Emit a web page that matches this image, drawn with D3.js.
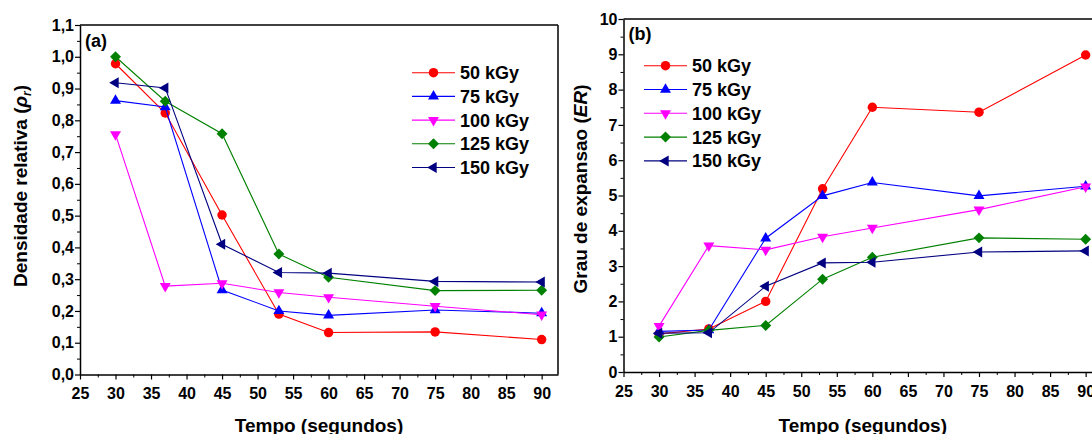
<!DOCTYPE html>
<html>
<head>
<meta charset="utf-8">
<script src="https://cdn.jsdelivr.net/npm/d3@7"></script>
<style>
  body { margin: 0; background: #fff; }
  svg { display: block; font-family: Arial, "Liberation Sans", sans-serif; }
</style>
</head>
<body>
<svg id="chart" width="1092" height="434"></svg>
<script>
// tempo (segundos)
var tempo = [30, 37, 45, 53, 60, 75, 90];
var doses = ["50 kGy", "75 kGy", "100 kGy", "125 kGy", "150 kGy"];
var colors = ["#ff0000", "#0000ff", "#ff00ff", "#008000", "#000080"];
var shapes = ["circle", "triangleUp", "triangleDown", "diamond", "triangleLeft"];

// (a) densidade relativa
var densidade50 = [0.978, 0.823, 0.502, 0.190, 0.132, 0.134, 0.110];
var densidade75 = [0.862, 0.842, 0.266, 0.200, 0.186, 0.203, 0.193];
var densidade100 = [0.756, 0.278, 0.287, 0.258, 0.243, 0.215, 0.188];
var densidade125 = [1.000, 0.860, 0.758, 0.379, 0.306, 0.264, 0.265];
var densidade150 = [0.918, 0.902, 0.410, 0.321, 0.319, 0.293, 0.291];

// (b) grau de expansao
var expansao50 = [1.08, 1.22, 2.00, 5.19, 7.50, 7.36, 8.98];
var expansao75 = [1.15, 1.19, 3.79, 4.99, 5.37, 4.99, 5.26];
var expansao100 = [1.30, 3.58, 3.46, 3.83, 4.08, 4.60, 5.25];
var expansao125 = [0.99, 1.18, 1.32, 2.63, 3.25, 3.80, 3.76];
var expansao150 = [1.10, 1.11, 2.43, 3.09, 3.11, 3.40, 3.43];

var xTicks = [25, 30, 35, 40, 45, 50, 55, 60, 65, 70, 75, 80, 85, 90];
var yTicksA = [0, 0.1, 0.2, 0.3, 0.4, 0.5, 0.6, 0.7, 0.8, 0.9, 1.0, 1.1];
var yTicksB = [0, 1, 2, 3, 4, 5, 6, 7, 8, 9, 10];

var svg = d3.select("#chart");

var symbolPath = function(shape) {
    if (shape == "circle") return d3.symbol(d3.symbolCircle, 70)();
    if (shape == "diamond") return d3.symbol(d3.symbolSquare, 60)();
    return d3.symbol(d3.symbolTriangle, 52)();
};
var symbolRotate = function(shape) {
    if (shape == "triangleDown") return 180;
    if (shape == "triangleLeft") return -90;
    if (shape == "diamond") return 45;
    return 0;
};

var drawPanel = function(p) {
    var g = svg.append("g");

    var x = d3.scaleLinear().domain([25, 92.3]).range([p.left, p.right]);
    var y = d3.scaleLinear().domain(p.yDomain).range([p.bottom, p.top]);

    // frame
    g.append("line")
        .attr("x1", p.left).attr("x2", p.right)
        .attr("y1", p.top).attr("y2", p.top)
        .attr("stroke", "#000").attr("stroke-width", 1.5);
    g.append("line")
        .attr("x1", p.right).attr("x2", p.right)
        .attr("y1", p.top).attr("y2", p.bottom)
        .attr("stroke", "#000").attr("stroke-width", 1.5);

    // minor ticks
    var xMinor = d3.range(27.5, 92, 5);
    var yMinor = d3.range(p.yDomain[0] + p.yStep / 2, p.yDomain[1], p.yStep);
    g.append("g")
        .attr("transform", "translate(0," + p.bottom + ")")
        .call(d3.axisBottom(x).tickValues(xMinor).tickSize(3).tickFormat(""))
        .call(function(a) { a.select(".domain").remove(); });
    g.append("g")
        .attr("transform", "translate(" + p.left + ",0)")
        .call(d3.axisLeft(y).tickValues(yMinor).tickSize(3).tickFormat(""))
        .call(function(a) { a.select(".domain").remove(); });

    var xAxis = g.append("g")
        .attr("transform", "translate(0," + p.bottom + ")")
        .call(d3.axisBottom(x).tickValues(xTicks).tickSizeInner(5).tickSizeOuter(0).tickPadding(8.5));
    var yAxis = g.append("g")
        .attr("transform", "translate(" + p.left + ",0)")
        .call(d3.axisLeft(y).tickValues(p.yTicks).tickSizeInner(5).tickSizeOuter(0).tickPadding(1)
            .tickFormat(p.yFormat));

    [xAxis, yAxis].forEach(function(a) {
        a.select(".domain").attr("stroke-width", 1.5);
        a.selectAll(".tick line").attr("stroke-width", 1.2);
        a.selectAll("text")
            .attr("font-size", "16px")
            .attr("font-weight", "bold")
            .attr("fill", "#000")
            .attr("font-family", "Arial, 'Liberation Sans', sans-serif");
    });
    g.selectAll(".tick line").attr("stroke", "#000");

    // series
    p.series.forEach(function(vals, i) {
        var pts = tempo.map(function(t, j) { return {x: t, y: vals[j]}; });
        var line = d3.line()
            .x(function(d) { return x(d.x); })
            .y(function(d) { return y(d.y); });
        g.append("path")
            .datum(pts)
            .attr("fill", "none")
            .attr("stroke", colors[i])
            .attr("stroke-width", 1.1)
            .attr("d", line);
        g.selectAll(".pt" + i)
            .data(pts)
            .enter().append("path")
            .attr("class", "pt" + i)
            .attr("fill", colors[i])
            .attr("d", symbolPath(shapes[i]))
            .attr("transform", function(d) {
                return "translate(" + x(d.x) + "," + y(d.y) + ") rotate(" + symbolRotate(shapes[i]) + ")";
            });
    });

    // legend
    var leg = g.append("g");
    doses.forEach(function(name, i) {
        var ly = p.legY + i * p.legStep;
        leg.append("line")
            .attr("x1", p.legX).attr("x2", p.legX + 43)
            .attr("y1", ly).attr("y2", ly)
            .attr("stroke", colors[i]).attr("stroke-width", 1.1);
        leg.append("path")
            .attr("fill", colors[i])
            .attr("d", symbolPath(shapes[i]))
            .attr("transform", "translate(" + (p.legX + 21.5) + "," + ly + ") rotate(" + symbolRotate(shapes[i]) + ")");
        leg.append("text")
            .attr("x", p.legX + 48)
            .attr("y", ly)
            .attr("dy", "0.36em")
            .attr("font-size", "18px")
            .attr("font-weight", "bold")
            .text(name);
    });

    // panel letter
    g.append("text")
        .attr("x", p.left + 5)
        .attr("y", p.letterY)
        .attr("font-size", "18px")
        .attr("font-weight", "bold")
        .text(p.letter);

    // x title
    g.append("text")
        .attr("x", (p.left + p.right) / 2)
        .attr("y", 432)
        .attr("text-anchor", "middle")
        .attr("font-size", "19px")
        .attr("font-weight", "bold")
        .text("Tempo (segundos)");

    // y title
    var yt = g.append("text")
        .attr("transform", "translate(" + p.yTitleX + "," + p.yTitleY + ") rotate(-90)")
        .attr("text-anchor", "middle")
        .attr("font-size", "19px")
        .attr("font-weight", "bold");
    p.yTitle(yt);
};

drawPanel({
    left: 80, right: 558, top: 25, bottom: 374.5,
    yDomain: [0, 1.1], yStep: 0.1, yTicks: yTicksA,
    yFormat: function(d) { return d3.format(".1f")(d).replace(".", ","); },
    series: [densidade50, densidade75, densidade100, densidade125, densidade150],
    legX: 412, legY: 72.7, legStep: 23.7,
    letter: "(a)", letterY: 47,
    yTitleX: 26.5, yTitleY: 186,
    yTitle: function(t) {
        t.append("tspan").text("Densidade relativa (");
        t.append("tspan").attr("font-style", "italic").text("\u03c1");
        t.append("tspan").attr("font-style", "italic").attr("font-size", "12px").attr("dy", "4").text("r");
        t.append("tspan").attr("dy", "-4").text(")");
    }
});

drawPanel({
    left: 623.5, right: 1102, top: 19, bottom: 372,
    yDomain: [0, 10], yStep: 1, yTicks: yTicksB,
    yFormat: d3.format("d"),
    series: [expansao50, expansao75, expansao100, expansao125, expansao150],
    legX: 644, legY: 65.7, legStep: 23.8,
    letter: "(b)", letterY: 40,
    yTitleX: 587, yTitleY: 189,
    yTitle: function(t) {
        t.append("tspan").text("Grau de expansao (");
        t.append("tspan").attr("font-style", "italic").text("ER");
        t.append("tspan").text(")");
    }
});
</script>
</body>
</html>
